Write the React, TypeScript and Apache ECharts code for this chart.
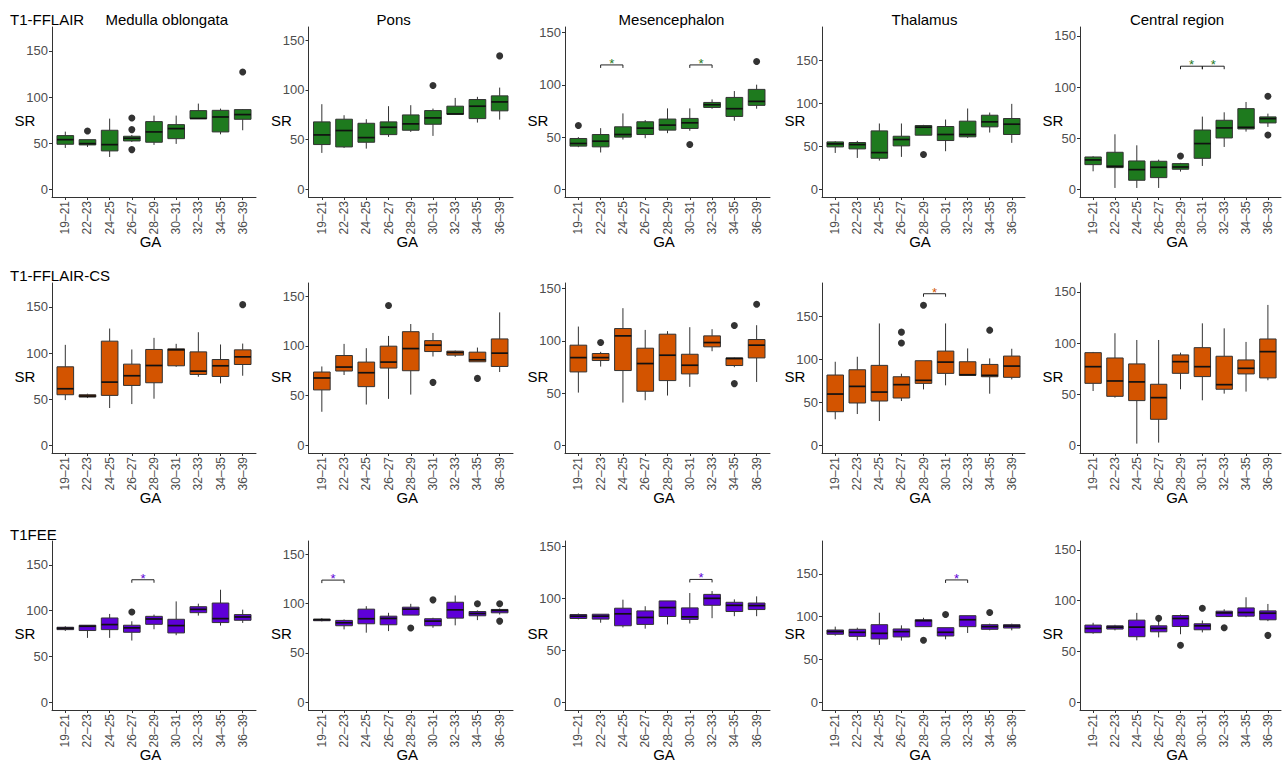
import React, { useEffect, useRef } from 'react';
import * as echarts from 'echarts';

// ---------- categories / labels ----------
const GA = ['19–21', '22–23', '24–25', '26–27', '28–29', '30–31', '32–33', '34–35', '36–39'];
const SEQUENCES = ['T1-FFLAIR', 'T1-FFLAIR-CS', 'T1FEE'];
const REGIONS = ['Medulla oblongata', 'Pons', 'Mesencephalon', 'Thalamus', 'Central region'];
const Y_TICKS = [0, 50, 100, 150];
const COL_MAX = [167.6, 155.5, 147.9, 179.5, 151.2];
const SEQ_COLORS = ['#1E7A1E', '#D35400', '#5E00D8'];

// ---------- data: [lower whisker, Q1, median, Q3, upper whisker] per GA ----------
// T1-FFLAIR
const FFLAIR_MEDULLA = [[44.8, 48.8, 53.8, 58.2, 62.5], [45.9, 48.1, 49.5, 53.8, 53.8], [35, 41.6, 48.4, 64, 76.6], [51.3, 52.4, 55.3, 57.5, 58.9], [48.1, 51, 62.2, 73.4, 79.9], [49.2, 54.9, 65.8, 70.1, 79.9], [76.6, 76.6, 76.8, 85.3, 92.9], [59.6, 62.2, 78.4, 85.6, 87.5], [64, 75.9, 81, 86.4, 87]];
const FFLAIR_MEDULLA_OUT = [[1, 63.2], [3, 77.3], [3, 64.7], [3, 43], [8, 127.2]];
const FFLAIR_PONS = [[36.6, 45, 54.7, 67.8, 85.6], [41.6, 42.6, 59.1, 70.5, 74.5], [40.9, 47.3, 52, 66.4, 70.5], [52.7, 55, 62.4, 67.8, 83.6], [57.7, 59.4, 65.8, 74.8, 84.6], [53.7, 65.4, 71.8, 79.2, 81.2], [75.5, 75.5, 75.8, 83.6, 91.9], [67.1, 71.1, 83.6, 90.3, 93], [70.1, 78.9, 87.9, 94, 102.3]];
const FFLAIR_PONS_OUT = [[5, 104.4], [8, 134.2]];
const FFLAIR_MES = [[40.3, 41.3, 43.8, 48.6, 49.9], [35.2, 40.6, 46, 52.4, 58.5], [47.6, 49.9, 52.4, 59.8, 72.6], [48.9, 52.4, 58.5, 64.6, 66.2], [53.7, 56.6, 61.4, 67.2, 77.4], [56, 58.2, 63.6, 67.8, 77.4], [77.1, 78.3, 80.9, 83.1, 86], [65.6, 69.7, 77.1, 87.9, 94], [77.1, 80.3, 84.1, 95.6, 100.1]];
const FFLAIR_MES_OUT = [[0, 61.1], [5, 42.9], [8, 122.2]];
const FFLAIR_MES_SIG = [[1, 2, 119], [5, 6, 119]];
const FFLAIR_THAL = [[42.2, 49.2, 52.7, 55, 55.8], [36.4, 46.9, 51.9, 54.3, 56.2], [33.3, 36, 42.6, 67.8, 76.4], [37.6, 50.4, 57.8, 61.6, 76.4], [62.8, 62.8, 72.1, 74, 74.8], [44.2, 56.6, 63.6, 72.9, 81], [59.7, 60.9, 63.6, 79.1, 93.8], [65.9, 72.5, 78.3, 86, 89.1], [53.9, 63.6, 75.6, 82.2, 99.2]];
const FFLAIR_THAL_OUT = [[4, 40.3]];
const FFLAIR_CENT = [[17.6, 24.1, 28.7, 31.6, 32.3], [1.3, 21.2, 22.5, 36.2, 53.8], [1.3, 8.8, 19.2, 27.7, 43], [1.3, 11.4, 21.5, 27.4, 29], [17.3, 19.6, 21.8, 25.1, 25.8], [22.8, 30.3, 44.7, 58, 71.1], [41.4, 50.2, 60, 67.5, 75.3], [56.4, 59, 60.6, 78.9, 85.4], [61, 64.9, 69.1, 70.8, 74]];
const FFLAIR_CENT_OUT = [[4, 32.6], [8, 91], [8, 53.1]];
const FFLAIR_CENT_SIG = [[4, 5, 120.4], [5, 6, 120.4]];

// T1-FFLAIR-CS
const CS_MEDULLA = [[49, 54.8, 61.3, 85.1, 108.9], [51.2, 52.3, 53.4, 54.8, 55.9], [40.4, 54.1, 68.5, 112.9, 126.6], [44.7, 64.9, 75.4, 88, 103.9], [50.5, 67.8, 86.5, 103.9, 116.5], [85.1, 86.2, 103.5, 104.6, 110], [74.3, 76.8, 80.4, 101.3, 122.6], [67.1, 74.6, 86.2, 93, 109.3], [75.4, 87.6, 95.9, 103.5, 110.3]];
const CS_MEDULLA_OUT = [[8, 152.5]];
const CS_PONS = [[33.7, 55.7, 67.7, 73.7, 79.3], [70.7, 74.7, 78.7, 90.3, 102], [41, 59, 73, 83.7, 97.7], [46.7, 77.7, 83.7, 99.7, 110], [51, 75, 97.3, 114.3, 122], [89.3, 94.3, 100.7, 105.3, 113], [89, 90.7, 93.3, 94.7, 95.3], [84, 84, 86, 93.7, 98.3], [73.7, 79.3, 92.7, 107, 133.7]];
const CS_PONS_OUT = [[3, 140.7], [5, 63.3], [7, 67.3]];
const CS_MES = [[50.4, 70.2, 83.9, 95.8, 113.6], [75.3, 81.1, 83.9, 87.8, 89.4], [40.9, 71.5, 104.7, 111.7, 131.2], [43.1, 51.7, 78.2, 92.9, 110.4], [47.6, 61.9, 86.2, 106.3, 109.2], [55.9, 68.3, 76.6, 87.1, 113], [90, 94.2, 98.3, 104.7, 111.1], [74.7, 76.3, 83, 83.6, 84], [60.6, 83.6, 95.8, 101.2, 114.9]];
const CS_MES_OUT = [[1, 98.3], [7, 114.6], [7, 59], [8, 135]];
const CS_THAL = [[30.2, 39, 59.5, 81.6, 97], [36.3, 49.1, 68.4, 87.7, 102.8], [28.2, 51.4, 61.8, 92.8, 141.5], [51.4, 54.9, 70.4, 79.6, 83.1], [64.9, 71.9, 75.4, 98.2, 98.2], [69.6, 83.5, 96.6, 109.4, 141.5], [81.2, 81.2, 81.9, 97, 112.5], [59.9, 79.6, 81.2, 93.9, 100.9], [76.5, 78.9, 92, 103.6, 112.1]];
const CS_THAL_OUT = [[3, 131.4], [3, 118.7], [4, 162.7], [7, 133.7]];
const CS_THAL_SIG = [[4, 5, 176]];
const CS_CENT = [[53.1, 60.6, 76.9, 90.6, 91.3], [46.6, 47.9, 62.9, 85.4, 109.6], [1.6, 43.7, 62, 79.6, 103], [2.6, 25.4, 46.6, 59.7, 103], [54.8, 70.4, 81.8, 88.4, 90.6], [44, 67.2, 76.9, 95.5, 119.3], [50.5, 54.8, 59.3, 87.1, 114.4], [52.5, 69.8, 75.3, 83.5, 101.1], [63.6, 65.9, 91.6, 104, 137.3]];
const CS_CENT_OUT: number[][] = [];

// T1FEE
const FEE_MEDULLA = [[77.9, 79.3, 80.8, 81.9, 83], [70.3, 78.3, 83, 84.1, 84.1], [70.3, 79.3, 84.8, 92, 96.4], [67.4, 76.4, 81.2, 84.1, 88.4], [79.7, 85.1, 90.9, 93.8, 95.7], [73.2, 75.7, 83.7, 90.6, 110.1], [94.6, 97.8, 101.4, 104.3, 107.6], [83.7, 87, 91.3, 108.3, 122.8], [86.6, 89.5, 93.1, 95.7, 101.1]];
const FEE_MEDULLA_OUT = [[3, 98.6]];
const FEE_MEDULLA_SIG = [[3, 4, 133.7]];
const FEE_PONS = [[81.9, 82.6, 83.6, 84.2, 85.2], [73.8, 77.5, 80.5, 82.9, 83.9], [70.5, 79.5, 84.6, 94.3, 97.3], [72.1, 78.5, 84.9, 87.2, 90.6], [88.3, 88.3, 94.3, 96.3, 99.7], [75.5, 77.5, 82.2, 84.6, 85.6], [77.9, 85.2, 93.6, 101.3, 108.1], [83.2, 87.6, 89.9, 91.9, 93], [88.9, 90.6, 93, 94, 95]];
const FEE_PONS_OUT = [[4, 75.2], [5, 103.7], [7, 99.7], [8, 99.7], [8, 82.2]];
const FEE_PONS_SIG = [[0, 1, 123.7]];
const FEE_MES = [[79.8, 80.7, 82.9, 84.5, 85.5], [76.6, 80.1, 82.9, 84.8, 84.8], [72.1, 73.7, 85.2, 90.6, 98.8], [70.9, 75, 81.7, 88, 92.5], [75, 82.6, 91.2, 97.6, 97.6], [75.9, 79.8, 82.3, 90.9, 105.2], [81, 93.4, 100.1, 103.9, 107.1], [82.9, 87.4, 93.4, 96.3, 99.1], [82.9, 89.3, 93.1, 95.6, 102]];
const FEE_MES_OUT: number[][] = [];
const FEE_MES_SIG = [[5, 6, 118.3]];
const FEE_THAL = [[77.9, 79.5, 82.6, 84.5, 88.4], [72.5, 77.1, 81.8, 85.3, 87.2], [67.1, 74, 80.6, 90.7, 104.7], [72.1, 76.4, 82.6, 85.7, 89.9], [88.4, 88.4, 95.3, 96.5, 98.8], [73.6, 77.5, 81.8, 87.2, 87.2], [81, 88.4, 96.5, 101.2, 101.2], [84.1, 85.3, 88.4, 90.7, 91.9], [84.1, 86.8, 89.1, 90.7, 91.9]];
const FEE_THAL_OUT = [[4, 72.5], [5, 102.7], [7, 105]];
const FEE_THAL_SIG = [[5, 6, 143]];
const FEE_CENT = [[67.5, 68.5, 72.7, 76, 78.3], [70.8, 72.1, 74, 75.3, 76.3], [61, 64.6, 74, 80.9, 88], [63.9, 69.4, 72.7, 75.3, 80.5], [67, 74.6, 82.5, 85.4, 86.4], [68.8, 71.4, 75.3, 77.3, 80.5], [84.4, 84.4, 88, 89.7, 91.6], [83.8, 84.8, 88.4, 92.9, 103.4], [79.9, 81.2, 87.7, 90, 96.8]];
const FEE_CENT_OUT = [[3, 82.8], [4, 56.1], [5, 92.6], [6, 73.4], [8, 65.9]];

const NO_SIG: number[][] = [];
const PANELS = [
  [
    { box: FFLAIR_MEDULLA, out: FFLAIR_MEDULLA_OUT, sig: NO_SIG },
    { box: FFLAIR_PONS, out: FFLAIR_PONS_OUT, sig: NO_SIG },
    { box: FFLAIR_MES, out: FFLAIR_MES_OUT, sig: FFLAIR_MES_SIG },
    { box: FFLAIR_THAL, out: FFLAIR_THAL_OUT, sig: NO_SIG },
    { box: FFLAIR_CENT, out: FFLAIR_CENT_OUT, sig: FFLAIR_CENT_SIG },
  ],
  [
    { box: CS_MEDULLA, out: CS_MEDULLA_OUT, sig: NO_SIG },
    { box: CS_PONS, out: CS_PONS_OUT, sig: NO_SIG },
    { box: CS_MES, out: CS_MES_OUT, sig: NO_SIG },
    { box: CS_THAL, out: CS_THAL_OUT, sig: CS_THAL_SIG },
    { box: CS_CENT, out: CS_CENT_OUT, sig: NO_SIG },
  ],
  [
    { box: FEE_MEDULLA, out: FEE_MEDULLA_OUT, sig: FEE_MEDULLA_SIG },
    { box: FEE_PONS, out: FEE_PONS_OUT, sig: FEE_PONS_SIG },
    { box: FEE_MES, out: FEE_MES_OUT, sig: FEE_MES_SIG },
    { box: FEE_THAL, out: FEE_THAL_OUT, sig: FEE_THAL_SIG },
    { box: FEE_CENT, out: FEE_CENT_OUT, sig: NO_SIG },
  ],
];

// ---------- layout ----------
const COL_LEFT = [52, 308.5, 565, 822, 1080];
const COL_RIGHT = [256, 513, 770, 1025, 1281];
const ROW_TOP = [27, 283, 541];
const ROW_BOTTOM = [197, 453, 710];
const TITLE_CX = [166.7, 393.7, 671.5, 924.5, 1177];
const ROW_TITLE_Y = [19, 275, 534];
const BOX_W = 0.75;
const EDGE = '#333333';
const TICK_FONT = '"Liberation Sans", Arial, Helvetica, sans-serif';
const TEXT_FONT = '"Liberation Sans", Arial, Helvetica, sans-serif';

function buildOption() {
  const grid: any[] = [];
  const xAxis: any[] = [];
  const yAxis: any[] = [];
  const series: any[] = [];
  const graphic: any[] = [];
  const catIdx = GA.map((_, i) => i);

  for (let r = 0; r < 3; r++) {
    const color = SEQ_COLORS[r];
    graphic.push({
      type: 'text', x: 10, y: ROW_TITLE_Y[r],
      style: { text: SEQUENCES[r], fill: '#000', fontSize: 15, fontFamily: TEXT_FONT, align: 'left', verticalAlign: 'middle' },
    });
    for (let c = 0; c < 5; c++) {
      const k = r * 5 + c;
      const p = PANELS[r][c];
      const left = COL_LEFT[c];
      const right = COL_RIGHT[c];
      const top = ROW_TOP[r];
      const bottom = ROW_BOTTOM[r];
      grid.push({ left, top, width: right - left, height: bottom - top, outerBoundsMode: 'none', containLabel: false });
      xAxis.push({
        type: 'value', gridIndex: k, min: -0.6, max: 8.6,
        axisLine: { show: true, onZero: false, lineStyle: { color: EDGE, width: 1 } },
        axisTick: { show: true, length: 3, customValues: catIdx, lineStyle: { color: EDGE } },
        axisLabel: {
          show: true, customValues: catIdx, rotate: 90, margin: 4,
          formatter: (v: number) => GA[Math.round(v)] ?? '',
          color: '#4D4D4D', fontSize: 12, fontFamily: TICK_FONT,
        },
        splitLine: { show: false },
      });
      const M = COL_MAX[c];
      yAxis.push({
        type: 'value', gridIndex: k, min: -0.05 * M, max: 1.05 * M,
        axisLine: { show: true, onZero: false, lineStyle: { color: EDGE, width: 1 } },
        axisTick: { show: true, length: 3, customValues: Y_TICKS, lineStyle: { color: EDGE } },
        axisLabel: { show: true, customValues: Y_TICKS, margin: 4, color: '#4D4D4D', fontSize: 13, fontFamily: TICK_FONT },
        splitLine: { show: false },
      });

      series.push({
        type: 'custom', coordinateSystem: 'cartesian2d', xAxisIndex: k, yAxisIndex: k,
        encode: { x: 0, y: [1, 2, 3, 4, 5] },
        data: p.box.map((b, i) => [i, ...b]),
        renderItem: (params: any, api: any) => {
          const x = api.value(0);
          const lo = api.coord([x, api.value(1)]);
          const q1 = api.coord([x, api.value(2)]);
          const md = api.coord([x, api.value(3)]);
          const q3 = api.coord([x, api.value(4)]);
          const hi = api.coord([x, api.value(5)]);
          const hw = api.size([BOX_W, 0])[0] / 2;
          return {
            type: 'group',
            children: [
              { type: 'line', shape: { x1: lo[0], y1: lo[1], x2: q1[0], y2: q1[1] }, style: { stroke: EDGE, lineWidth: 1 } },
              { type: 'line', shape: { x1: q3[0], y1: q3[1], x2: hi[0], y2: hi[1] }, style: { stroke: EDGE, lineWidth: 1 } },
              { type: 'rect', shape: { x: q3[0] - hw, y: q3[1], width: 2 * hw, height: Math.max(q1[1] - q3[1], 0.5) }, style: { fill: color, stroke: EDGE, lineWidth: 1 } },
              { type: 'line', shape: { x1: md[0] - hw, y1: md[1], x2: md[0] + hw, y2: md[1] }, style: { stroke: '#111', lineWidth: 1.7 } },
            ],
          };
        },
        z: 2,
      });

      if (p.out.length) {
        series.push({
          type: 'scatter', xAxisIndex: k, yAxisIndex: k, data: p.out,
          symbol: 'circle', symbolSize: 7, itemStyle: { color: '#000' }, z: 3,
        });
      }

      if (p.sig.length) {
        series.push({
          type: 'custom', coordinateSystem: 'cartesian2d', xAxisIndex: k, yAxisIndex: k,
          encode: { x: [0, 1], y: 2 },
          data: p.sig,
          renderItem: (params: any, api: any) => {
            const a = api.coord([api.value(0), api.value(2)]);
            const b = api.coord([api.value(1), api.value(2)]);
            return {
              type: 'group',
              children: [
                { type: 'polyline', shape: { points: [[a[0], a[1] + 3], [a[0], a[1]], [b[0], b[1]], [b[0], b[1] + 3]] }, style: { stroke: '#222', lineWidth: 1, fill: null } },
                { type: 'text', x: (a[0] + b[0]) / 2, y: a[1] - 1.5, style: { text: '*', fill: color, fontSize: 13, fontFamily: TEXT_FONT, align: 'center', verticalAlign: 'middle' } },
              ],
            };
          },
          z: 3,
        });
      }

      const cx = (left + right) / 2;
      const cy = (top + bottom) / 2 + 8;
      graphic.push({
        type: 'text', x: left - 27, y: cy,
        style: { text: 'SR', fill: '#000', fontSize: 15, fontFamily: TEXT_FONT, align: 'center', verticalAlign: 'middle' },
      });
      graphic.push({
        type: 'text', x: cx - 3.5, y: bottom + 44,
        style: { text: 'GA', fill: '#000', fontSize: 15, fontFamily: TEXT_FONT, align: 'center', verticalAlign: 'middle' },
      });
      if (r === 0) {
        graphic.push({
          type: 'text', x: TITLE_CX[c], y: ROW_TITLE_Y[0],
          style: { text: REGIONS[c], fill: '#000', fontSize: 15, fontFamily: TEXT_FONT, align: 'center', verticalAlign: 'middle' },
        });
      }
    }
  }

  return {
    animation: false,
    backgroundColor: '#ffffff',
    grid, xAxis, yAxis, series, graphic,
  };
}

export default function App() {
  const ref = useRef<HTMLDivElement>(null);
  useEffect(() => {
    if (!ref.current) return;
    const chart = echarts.init(ref.current, undefined, { renderer: 'svg' });
    chart.setOption(buildOption() as any);
    return () => chart.dispose();
  }, []);
  return (
    <div
      ref={ref}
      style={{ position: 'fixed', left: 0, top: 0, width: 1283, height: 761, background: '#fff' }}
    />
  );
}
